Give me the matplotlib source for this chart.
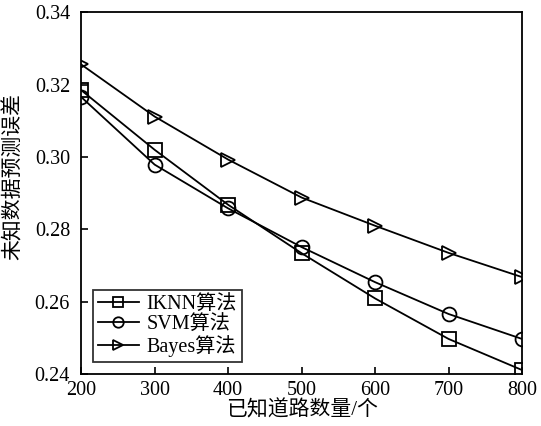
import matplotlib
matplotlib.use("Agg")
import matplotlib.pyplot as plt

plt.rcParams['font.family'] = ['Liberation Serif', 'Noto Sans CJK SC']

x = [200, 300, 400, 500, 600, 700, 800]
iknn = [0.3185, 0.3020, 0.2868, 0.2734, 0.2609, 0.2497, 0.2411]
svm = [0.3166, 0.2979, 0.2858, 0.2751, 0.2654, 0.2566, 0.2497]
bayes = [0.3256, 0.3112, 0.2993, 0.2888, 0.2810, 0.2735, 0.2668]
labels = ['IKNN算法', 'SVM算法', 'Bayes算法']
xticks = [200, 300, 400, 500, 600, 700, 800]
yticks = [0.24, 0.26, 0.28, 0.30, 0.32, 0.34]

fig = plt.figure(figsize=(5.41, 4.26), dpi=100)
ax = fig.add_axes([0.15, 0.122, 0.815, 0.849])
kw = dict(color='black', lw=1.3, markerfacecolor='none', markeredgecolor='black',
          markersize=10, markeredgewidth=1.3)
ax.plot(x, iknn, marker='s', label=labels[0], **kw)
ax.plot(x, svm, marker='o', label=labels[1], **kw)
ax.plot(x, bayes, marker='>', label=labels[2], **kw)
ax.set_xlim(200, 800)
ax.set_ylim(0.24, 0.34)
ax.set_xticks(xticks)
ax.set_yticks(yticks)
ax.set_xticklabels([str(v) for v in xticks])
ax.set_yticklabels(['%.2f' % v for v in yticks])
ax.tick_params(direction='in', labelsize=14.5, width=1.2, length=5)
ax.tick_params(axis='y', pad=8)
ax.tick_params(axis='x', pad=5)
for s in ax.spines.values():
    s.set_linewidth(1.3)
ax.set_xlabel('已知道路数量/个', fontsize=15, labelpad=0)
ax.set_ylabel('未知数据预测误差', fontsize=15)
ax.yaxis.set_label_coords(-0.13, 0.545)
leg = ax.legend(loc='lower left', fontsize=14.5, frameon=True, fancybox=False,
                edgecolor='black', handlelength=2.0, borderpad=0.25, labelspacing=0.05,
                handletextpad=0.4, borderaxespad=0.6, markerscale=0.75)
leg.get_frame().set_linewidth(1.3)
fig.savefig('out.png', dpi=100)
